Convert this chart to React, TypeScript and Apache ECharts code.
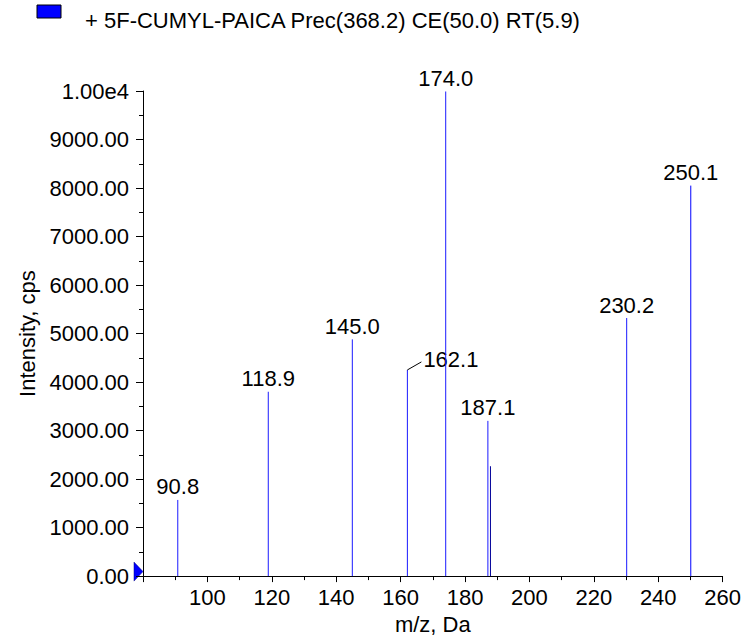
import React, { useEffect, useRef } from "react";
import * as echarts from "echarts";

const legendText = "+ 5F-CUMYL-PAICA Prec(368.2) CE(50.0) RT(5.9)";
const mzValues = [90.8, 118.9, 145.0, 162.1, 174.0, 187.1, 187.9, 230.2, 250.1];
const intensities = [1570, 3800, 4880, 4250, 9990, 3200, 2265, 5320, 8050];
const peakLabels = ["90.8", "118.9", "145.0", "162.1", "174.0", "187.1", "", "230.2", "250.1"];
const peakColors = ["#1a1aff", "#1a1aff", "#1a1aff", "#1a1aff", "#1a1aff", "#1a1aff", "#000099", "#1a1aff", "#0000ff"];
const leaderLabelIndex = 3;

const FONT = "Liberation Sans, Arial, sans-serif";

export default function App() {
  const ref = useRef<HTMLDivElement>(null);
  useEffect(() => {
    if (!ref.current) return;
    const chart = echarts.init(ref.current, undefined, { renderer: "svg" });
    const data = mzValues.map((m, i) => [m, intensities[i], i]);
    chart.setOption({
      animation: false,
      grid: { left: 143, right: 20, top: 91, bottom: 59, containLabel: false },
      xAxis: {
        type: "value",
        min: 80,
        max: 260,
        interval: 20,
        name: "m/z, Da",
        nameLocation: "middle",
        nameGap: 36,
        nameTextStyle: { fontSize: 22, fontFamily: FONT, color: "#000" },
        axisLine: { show: true, lineStyle: { color: "#000", width: 1 } },
        axisTick: { show: true, length: 6, lineStyle: { color: "#000" } },
        minorTick: { show: true, splitNumber: 2, length: 4, lineStyle: { color: "#000" } },
        axisLabel: {
          showMinLabel: false,
          fontSize: 22,
          fontFamily: FONT,
          color: "#000",
          margin: 10,
        },
        splitLine: { show: false },
        minorSplitLine: { show: false },
      },
      yAxis: {
        type: "value",
        min: 0,
        max: 10000,
        interval: 1000,
        name: "Intensity, cps",
        nameLocation: "middle",
        nameGap: 105,
        nameTextStyle: { fontSize: 22, fontFamily: FONT, color: "#000" },
        axisLine: { show: true, lineStyle: { color: "#000", width: 1 } },
        axisTick: { show: true, length: 7, lineStyle: { color: "#000" } },
        minorTick: { show: true, splitNumber: 2, length: 4, lineStyle: { color: "#000" } },
        axisLabel: {
          fontSize: 22,
          fontFamily: FONT,
          color: "#000",
          margin: 14,
          formatter: (v: number) => (v === 10000 ? "1.00e4" : v.toFixed(2)),
        },
        splitLine: { show: false },
        minorSplitLine: { show: false },
      },
      series: [
        {
          type: "custom",
          clip: false,
          encode: { x: 0, y: 1 },
          data,
          renderItem: (params: any, api: any) => {
            const idx = api.value(2);
            const base = api.coord([api.value(0), 0]);
            const top = api.coord([api.value(0), api.value(1)]);
            const children: any[] = [
              {
                type: "line",
                shape: { x1: base[0], y1: base[1], x2: top[0], y2: top[1] },
                style: { stroke: peakColors[idx], lineWidth: 1 },
              },
            ];
            const lbl = peakLabels[idx];
            if (lbl) {
              if (idx === leaderLabelIndex) {
                children.push({
                  type: "line",
                  shape: { x1: top[0], y1: top[1], x2: top[0] + 14, y2: top[1] - 8 },
                  style: { stroke: "#000", lineWidth: 1 },
                });
                children.push({
                  type: "text",
                  x: top[0] + 16,
                  y: top[1] - 10,
                  style: {
                    text: lbl,
                    fill: "#000",
                    fontSize: 22,
                    fontFamily: FONT,
                    align: "left",
                    verticalAlign: "middle",
                  },
                });
              } else {
                children.push({
                  type: "text",
                  x: top[0],
                  y: top[1] - 2,
                  style: {
                    text: lbl,
                    fill: "#000",
                    fontSize: 22,
                    fontFamily: FONT,
                    align: "center",
                    verticalAlign: "bottom",
                  },
                });
              }
            }
            return { type: "group", children };
          },
        },
      ],
    });
    const o = chart.convertToPixel({ xAxisIndex: 0, yAxisIndex: 0 }, [80, 0]) as number[];
    chart.setOption({
      graphic: [
        {
          type: "rect",
          shape: { x: 37, y: 5, width: 24, height: 13 },
          style: { fill: "#0000ff", stroke: "#000", lineWidth: 1 },
        },
        {
          type: "text",
          x: 85,
          y: 20,
          style: {
            text: legendText,
            fill: "#000",
            fontSize: 22,
            fontFamily: FONT,
            align: "left",
            verticalAlign: "middle",
          },
        },
        {
          type: "polygon",
          shape: {
            points: [
              [o[0] - 9, o[1] - 14],
              [o[0] - 9, o[1] + 5],
              [o[0], o[1] - 4.5],
            ],
          },
          style: { fill: "#0000ff", stroke: "#000080", lineWidth: 0.5 },
        },
      ],
    });
    return () => chart.dispose();
  }, []);
  return (
    <div
      ref={ref}
      style={{ position: "fixed", left: 0, top: 0, width: 744, height: 640, background: "#fff" }}
    />
  );
}
